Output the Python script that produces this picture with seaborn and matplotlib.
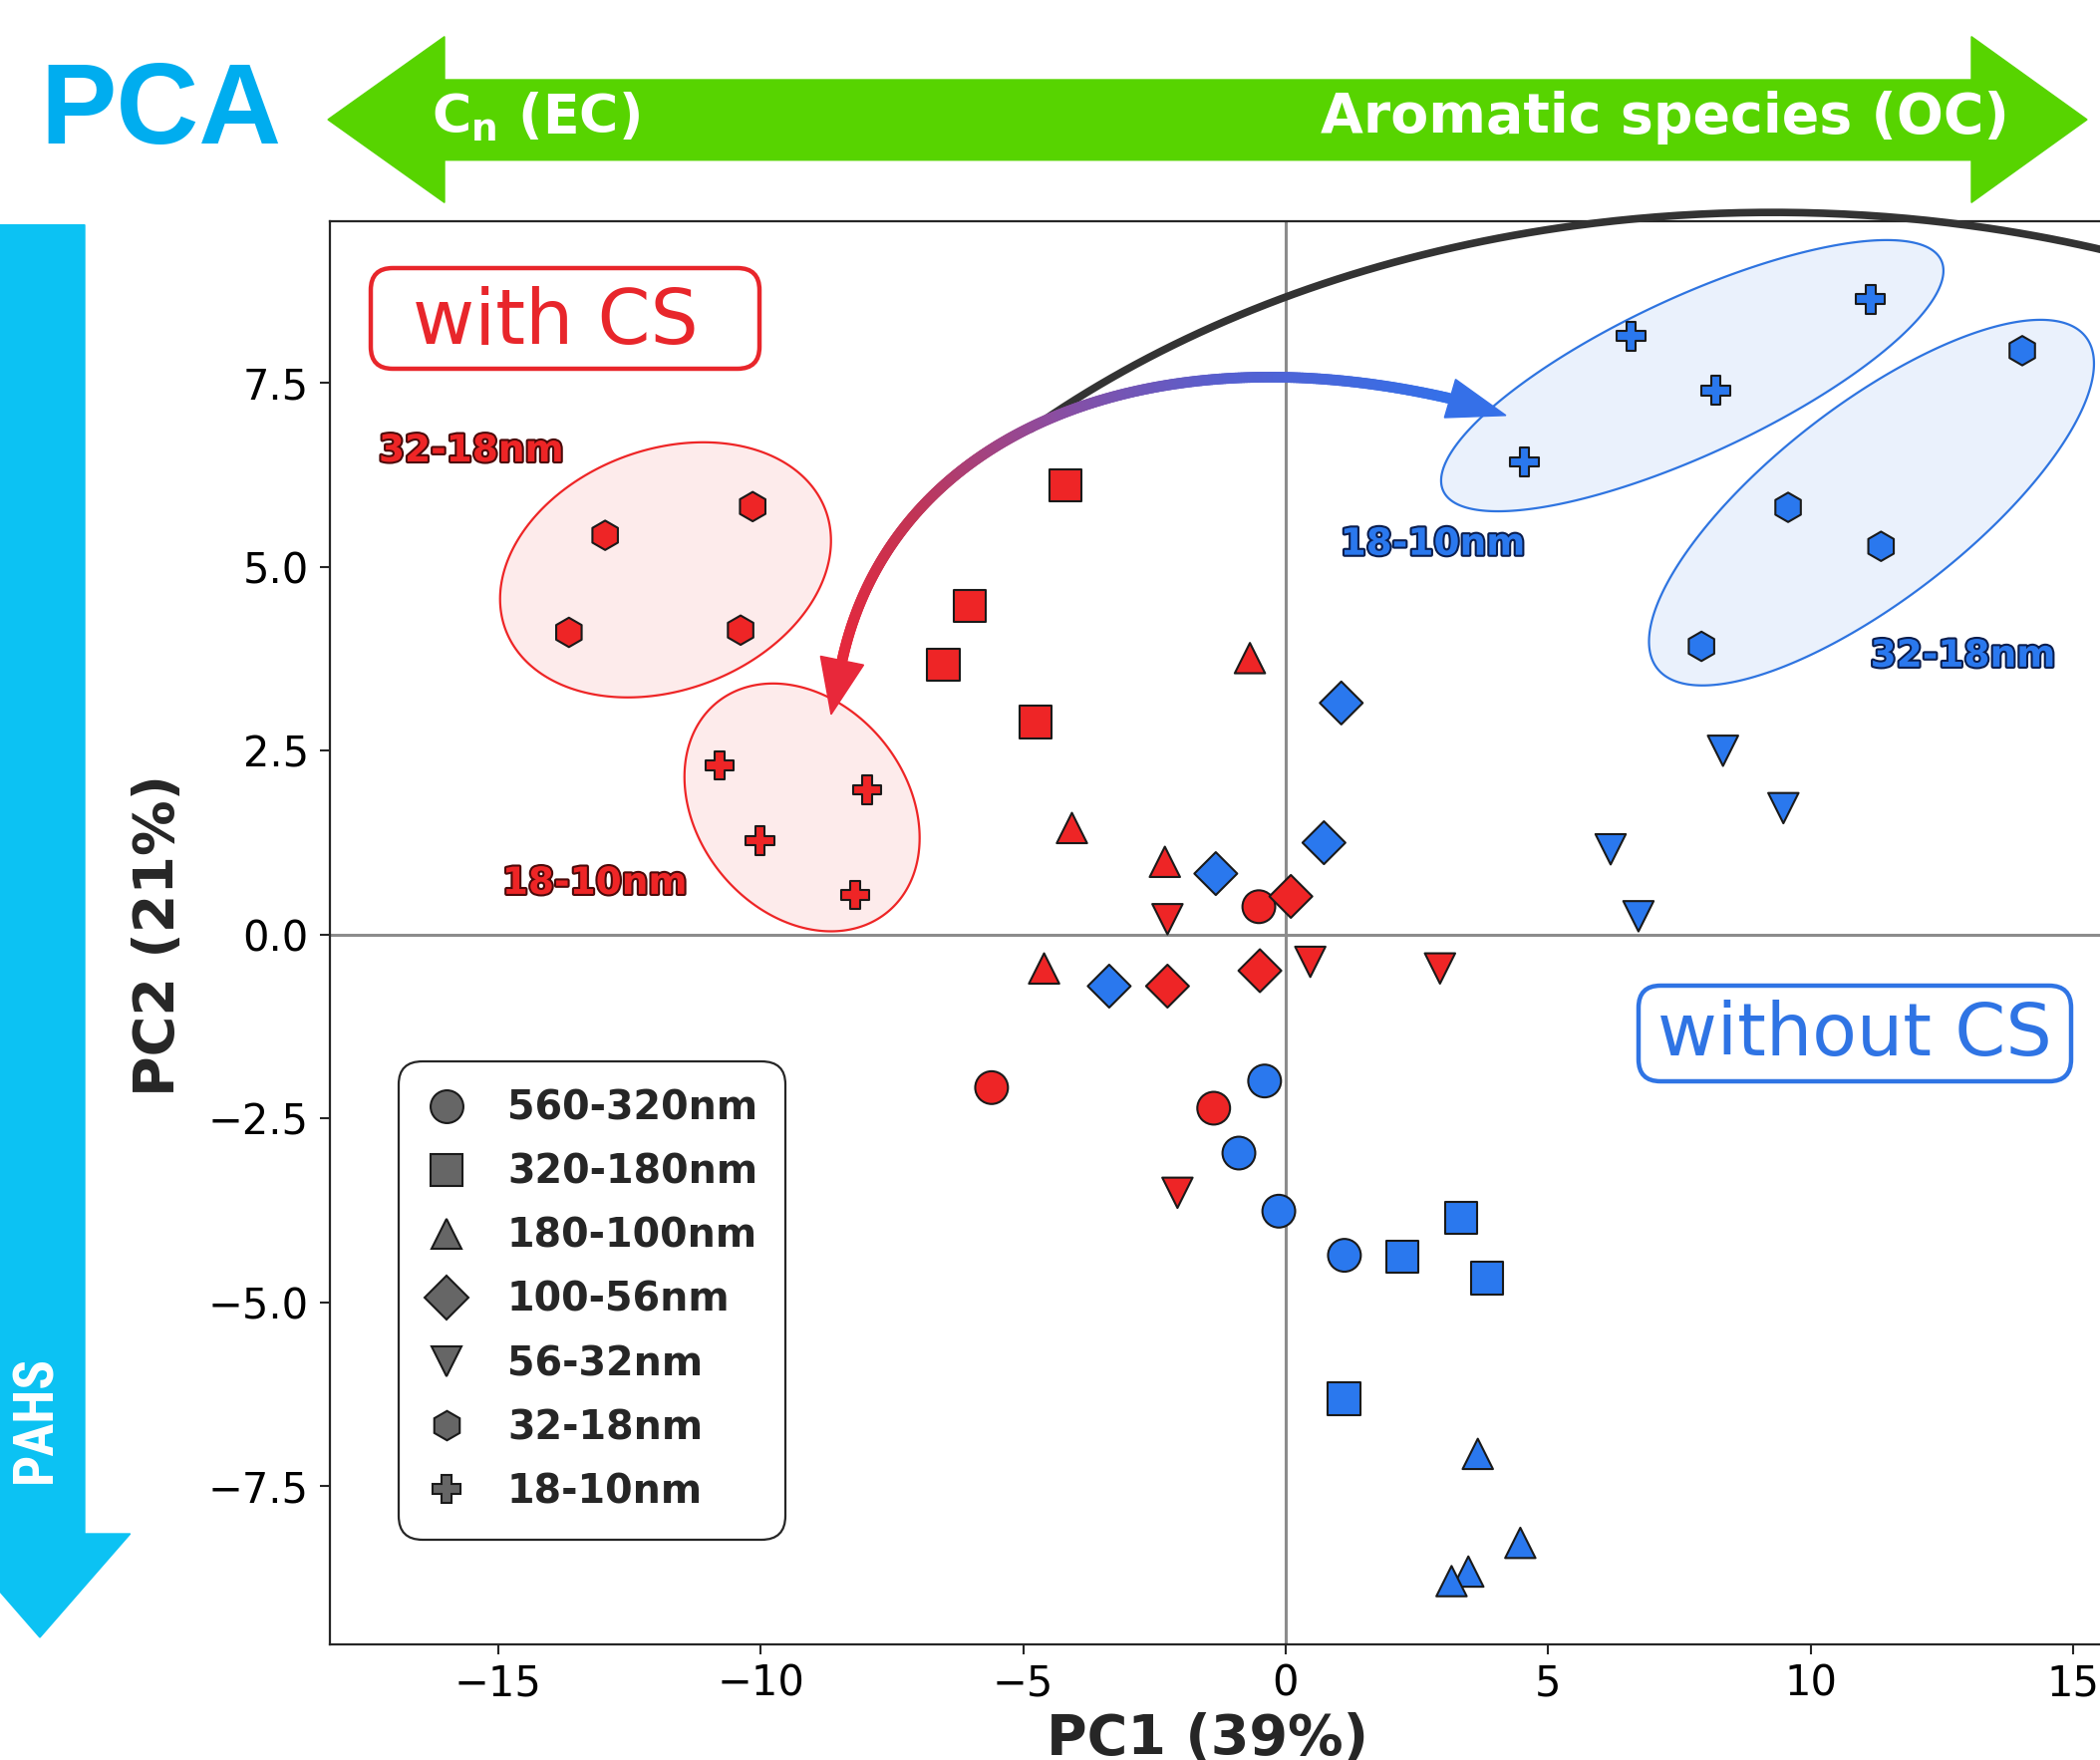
import numpy as np
import pandas as pd
import matplotlib
matplotlib.use("Agg")
import matplotlib.pyplot as plt
import seaborn as sns
from matplotlib.patches import Polygon, FancyBboxPatch
from matplotlib.lines import Line2D
from matplotlib.collections import LineCollection
from matplotlib.colors import LinearSegmentedColormap
import matplotlib.patheffects as pe
from matplotlib import font_manager as fm

# ---------------- data ----------------
fractions = ["560-320nm", "320-180nm", "180-100nm", "100-56nm", "56-32nm", "32-18nm", "18-10nm"]
fraction_markers = ["o", "s", "^", "D", "v", "h", "P"]
fraction_sizes = [560, 540, 480, 480, 480, 450, 430]

with_cs_fraction = (["560-320nm"] * 3 + ["320-180nm"] * 4 + ["180-100nm"] * 4 + ["100-56nm"] * 3
                    + ["56-32nm"] * 4 + ["32-18nm"] * 4 + ["18-10nm"] * 4)
with_cs_pc1 = [-0.51, -5.60, -1.37,
               -4.19, -6.02, -6.52, -4.76,
               -0.68, -4.07, -2.30, -4.60,
               0.10, -0.49, -2.25,
               -2.25, 0.47, 2.94, -2.06,
               -12.96, -10.15, -13.65, -10.38,
               -10.78, -7.97, -10.01, -8.20]
with_cs_pc2 = [0.38, -2.08, -2.36,
               6.11, 4.47, 3.67, 2.89,
               3.76, 1.45, 0.99, -0.46,
               0.52, -0.49, -0.70,
               0.21, -0.37, -0.46, -3.51,
               5.43, 5.82, 4.11, 4.14,
               2.30, 1.97, 1.28, 0.54]

without_cs_fraction = (["560-320nm"] * 4 + ["320-180nm"] * 4 + ["180-100nm"] * 4 + ["100-56nm"] * 4
                       + ["56-32nm"] * 4 + ["32-18nm"] * 4 + ["18-10nm"] * 4)
without_cs_pc1 = [-0.40, -0.89, -0.13, 1.12,
                  3.34, 2.22, 3.83, 1.11,
                  3.66, 4.47, 3.48, 3.16,
                  1.06, 0.73, -1.33, -3.36,
                  8.33, 9.48, 6.19, 6.72,
                  14.03, 9.57, 11.34, 7.92,
                  11.14, 6.58, 8.19, 4.55]
without_cs_pc2 = [-1.99, -2.97, -3.76, -4.36,
                  -3.85, -4.38, -4.67, -6.31,
                  -7.06, -8.27, -8.66, -8.79,
                  3.15, 1.25, 0.83, -0.70,
                  2.50, 1.72, 1.16, 0.25,
                  7.94, 5.81, 5.28, 3.92,
                  8.64, 8.14, 7.40, 6.43]

conditions = ["with CS", "without CS"]
x_ticks = [-15, -10, -5, 0, 5, 10, 15]
y_ticks = [-7.5, -5.0, -2.5, 0.0, 2.5, 5.0, 7.5]

# ---------------- style ----------------
RED = "#EE2526"
BLUE = "#2A78EE"
RED_TXT = "#E8262B"
BLUE_TXT = "#2F74E4"
GREEN = "#57D400"
CYAN = "#0CC2F3"
PCA_BLUE = "#00ADEF"

W, H, DPI = 2107, 1766, 100
sns.set_style("ticks")
plt.rcParams["font.family"] = ["DejaVu Sans"]
plt.rcParams["mathtext.fontset"] = "dejavusans"

fig = plt.figure(figsize=(W / DPI, H / DPI), dpi=DPI)
ax = fig.add_axes([0.1569, 0.0657, 0.9106, 0.8086])


def fx(px):
    return px / W


def fy(py):
    return 1 - py / H


df = pd.concat([
    pd.DataFrame({"PC1": with_cs_pc1, "PC2": with_cs_pc2, "fraction": with_cs_fraction, "CS": conditions[0]}),
    pd.DataFrame({"PC1": without_cs_pc1, "PC2": without_cs_pc2, "fraction": without_cs_fraction, "CS": conditions[1]}),
], ignore_index=True)

sns.scatterplot(data=df, x="PC1", y="PC2", hue="CS", palette={conditions[0]: RED, conditions[1]: BLUE},
                style="fraction", markers=dict(zip(fractions, fraction_markers)),
                size="fraction", sizes=dict(zip(fractions, fraction_sizes)),
                edgecolor="#1a1a1a", linewidth=1.5, legend=False, ax=ax, zorder=6)

ax.set_xlim(-18.21, 18.21)
ax.set_ylim(-9.65, 9.70)
ax.set_xticks(x_ticks)
ax.set_yticks(y_ticks)
ax.axhline(0, color="#8c8c8c", lw=2.2, zorder=1)
ax.axvline(0, color="#8c8c8c", lw=2.2, zorder=1)
for s in ax.spines.values():
    s.set_color("#262626")
    s.set_linewidth(1.6)
ax.tick_params(labelsize=30, length=7, width=1.5, color="#262626", labelcolor="black")
ax.tick_params(axis="y", pad=8)
ax.tick_params(axis="x", pad=6)
ax.set_xlabel("PC1 (39%)", fontsize=40, fontweight="bold", va="baseline")
ax.xaxis.set_label_coords(0.4593, -0.0770)
ax.set_ylabel("PC2 (21%)", fontsize=40, fontweight="bold", va="baseline")
ax.yaxis.set_label_coords(-0.0817, 0.4985)

# ---------------- cluster ellipses (center, semi-axis vectors in data units) ----------------
ellipses = [
    ((-11.81, 4.96), (3.047, 0.813), (0.803, -1.532), "#FDEBEB", RED),
    ((-9.21, 1.73), (1.619, -1.428), (1.547, 0.894), "#FDEBEB", RED),
    ((7.745, 7.60), (4.742, 1.568), (0.629, -0.970), "#EAF1FC", "#2E74E0"),
    ((11.158, 5.874), (4.082, 2.253), (1.137, -1.050), "#EAF1FC", "#2E74E0"),
]
tt = np.linspace(0, 2 * np.pi, 300)
for (c, a, b, fc, ec) in ellipses:
    ex = c[0] + a[0] * np.cos(tt) + b[0] * np.sin(tt)
    ey = c[1] + a[1] * np.cos(tt) + b[1] * np.sin(tt)
    ax.add_patch(Polygon(np.column_stack([ex, ey]), closed=True, facecolor=fc, edgecolor=ec, lw=1.6, zorder=2))

# ---------------- black arc ----------------
ta = np.linspace(np.deg2rad(135), np.deg2rad(50), 300)
ax.plot(9.28 + 20.01 * np.cos(ta), -0.27 + 10.09 * np.sin(ta), color="#333333", lw=5.5,
        clip_on=False, zorder=3, solid_capstyle="butt")

# ---------------- gradient arrow ----------------
P = np.array([[-8.447, 3.726], [-7.498, 6.816], [-2.658, 8.238], [3.132, 7.290]])
tb = np.linspace(0, 1, 300)[:, None]
curve = ((1 - tb) ** 3) * P[0] + 3 * ((1 - tb) ** 2) * tb * P[1] + 3 * (1 - tb) * tb ** 2 * P[2] + tb ** 3 * P[3]
segs = np.stack([curve[:-1], curve[1:]], axis=1)
cmap = LinearSegmentedColormap.from_list("rb", ["#E8283A", "#C23455", "#8E4C9E", "#5660D0", "#3570E8"])
lc = LineCollection(segs, colors=cmap(np.linspace(0, 1, len(segs))), linewidths=7.8, capstyle="round", zorder=4)
ax.add_collection(lc)
ax.add_patch(Polygon([(-8.037, 3.667), (-8.857, 3.786), (-8.656, 2.995)], closed=True, color="#E8283A", zorder=4))
ax.add_patch(Polygon([(3.026, 7.030), (3.238, 7.550), (4.195, 7.060)], closed=True, color="#3570E8", zorder=4))

# ---------------- cluster labels ----------------
lab_kw = dict(fontsize=27, fontweight="bold", ha="center", va="center", zorder=7)
ax.text(-15.51, 6.57, "32-18nm", color=RED, path_effects=[pe.withStroke(linewidth=3, foreground="#4a0a0a")], **lab_kw)
ax.text(-13.16, 0.69, "18-10nm", color=RED, path_effects=[pe.withStroke(linewidth=3, foreground="#4a0a0a")], **lab_kw)
ax.text(2.80, 5.30, "18-10nm", color=BLUE, path_effects=[pe.withStroke(linewidth=3, foreground="#0b1d4d")], **lab_kw)
ax.text(12.90, 3.78, "32-18nm", color=BLUE, path_effects=[pe.withStroke(linewidth=3, foreground="#0b1d4d")], **lab_kw)

# ---------------- legend ----------------
handles = [Line2D([], [], ls="", marker=m, markersize=np.sqrt(s), markerfacecolor="#666666",
                  markeredgecolor="#1a1a1a", markeredgewidth=1.5, label=f)
           for f, m, s in zip(fractions, fraction_markers, fraction_sizes)]
leg = ax.legend(handles=handles, loc="lower left", bbox_to_anchor=(0.0362, 0.0735), borderaxespad=0,
                prop=dict(weight="bold", size=28.5), handlelength=1.0, handletextpad=1.05,
                labelspacing=0.61, borderpad=0.7, frameon=True, fancybox=True, framealpha=1)
leg.get_frame().set_edgecolor("#262626")
leg.get_frame().set_linewidth(1.6)
leg.get_frame().set_boxstyle("round", pad=0, rounding_size=0.6)
leg.set_zorder(10)

# ---------------- decorations outside/inside plot ----------------
green_px = [(329, 120), (446, 36.7), (446, 80), (1978, 80), (1978, 36.7), (2094, 120),
            (1978, 203.3), (1978, 160.7), (446, 160.7), (446, 203.3)]
fig.patches.append(Polygon([(fx(x), fy(y)) for x, y in green_px], closed=True, color=GREEN,
                           transform=fig.transFigure, figure=fig))
cyan_px = [(0, 225.7), (85, 225.7), (85, 1539), (130.7, 1539), (40, 1643), (-50.7, 1539), (0, 1539)]
fig.patches.append(Polygon([(fx(x), fy(y)) for x, y in cyan_px], closed=True, color=CYAN,
                           transform=fig.transFigure, figure=fig))

for (x0, y0, x1, y1, col) in [(372, 269, 762, 370, RED_TXT), (1644, 989, 2078, 1085, BLUE_TXT)]:
    fig.patches.append(FancyBboxPatch((x0 / DPI, (H - y1) / DPI), (x1 - x0) / DPI, (y1 - y0) / DPI,
                                      boxstyle="round,pad=0,rounding_size=0.22", facecolor="white",
                                      edgecolor=col, lw=3.2, transform=fig.dpi_scale_trans, figure=fig, zorder=8))

texts = []
texts.append((fig.text(fx(557), fy(345), "with CS", color=RED_TXT, fontsize=54, ha="center", va="baseline", zorder=9), 287, "w"))
texts.append((fig.text(fx(1861), fy(1059), "without CS", color=BLUE_TXT, fontsize=52, ha="center", va="baseline", zorder=9), 396, "w"))
texts.append((fig.text(fx(40), fy(144), "PCA", color=PCA_BLUE, fontsize=84, fontweight="bold",
                       family=["Liberation Sans", "DejaVu Sans"], ha="left", va="baseline"), 242, "w"))
texts.append((fig.text(fx(433), fy(133), r"C$_\mathbf{n}$ (EC)", color="white", fontsize=40, fontweight="bold",
                       ha="left", va="baseline"), 209, "w"))
texts.append((fig.text(fx(2016), fy(133), "Aromatic species (OC)", color="white", fontsize=40, fontweight="bold",
                       ha="right", va="baseline"), 691, "w"))

# condensed font for the PAHs label if available
names = {f.name for f in fm.fontManager.ttflist}
pah_kw = dict(family=["DejaVu Sans"], fontweight="bold")
for cand in ["Liberation Sans Narrow", "Roboto Condensed", "Open Sans Condensed"]:
    if cand in names:
        pah_kw = dict(family=[cand], fontweight="bold")
        break
else:
    if any(f.name == "DejaVu Sans" and "condensed" in str(f.stretch) for f in fm.fontManager.ttflist):
        pah_kw = dict(family=["DejaVu Sans"], fontweight="bold", fontstretch="condensed")
texts.append((fig.text(fx(36), fy(1424), "PAHS", color="white", fontsize=40, rotation=90,
                       ha="center", va="center", **pah_kw), 128, "h"))

r = fig.canvas.get_renderer()
for t, target, dim in texts:
    bb = t.get_window_extent(renderer=r)
    cur = bb.width if dim == "w" else bb.height
    t.set_fontsize(t.get_fontsize() * target / cur)

fig.savefig("out.png", dpi=DPI)
